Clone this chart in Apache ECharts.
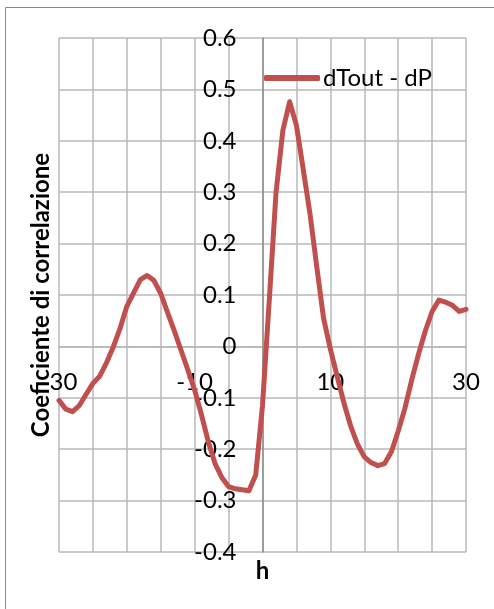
<!DOCTYPE html>
<html>
<head>
<meta charset="utf-8">
<script src="https://cdn.jsdelivr.net/npm/echarts@6/dist/echarts.min.js"></script>
<style>
html,body{margin:0;padding:0;background:#fff;}
#chart{width:494px;height:609px;}
</style>
</head>
<body>
<div id="chart"></div>
<script>
// Data
const lags = [-30,-29,-28,-27,-26,-25,-24,-23,-22,-21,-20,-19,-18,-17,-16,-15,-14,-13,-12,-11,-10,
  -9,-8,-7,-6,-5,-4,-3,-2,-1,0,1,2,3,4,5,6,7,8,9,10,
  11,12,13,14,15,16,17,18,19,20,21,22,23,24,25,26,27,28,29,30];
const corr = [-0.105,-0.122,-0.127,-0.115,-0.093,-0.072,-0.058,-0.032,-0.001,0.035,0.078,
  0.104,0.130,0.138,0.128,0.103,0.066,0.030,-0.008,-0.046,-0.085,
  -0.133,-0.185,-0.228,-0.255,-0.273,-0.277,-0.279,-0.281,-0.250,-0.115,
  0.090,0.300,0.420,0.476,0.430,0.345,0.258,0.155,0.055,-0.005,
  -0.058,-0.110,-0.155,-0.190,-0.215,-0.226,-0.232,-0.228,-0.205,-0.165,
  -0.120,-0.065,-0.015,0.030,0.068,0.090,0.086,0.080,0.068,0.072];
const seriesName = 'dTout - dP';
const xTickLabels = [-30,-10,10,30];
const yTitle = 'Coeficiente di correlazione';
const xTitle = 'h';

const points = lags.map((h,i)=>[h,corr[i]]);
const FONT = 'Lato';
const G = {left:59,right:28,top:38,bottom:57,W:494,H:609};
const plotW = G.W-G.left-G.right, plotH = G.H-G.top-G.bottom;
const X_MIN=-30, X_MAX=30, Y_MIN=-0.4, Y_MAX=0.6;
// offsets so that each axis crosses the other at 0 (Excel-style)
const xAxisOffset = -plotH*(0-Y_MIN)/(Y_MAX-Y_MIN);
const yAxisOffset = -plotW*(0-X_MIN)/(X_MAX-X_MIN);

const chart = echarts.init(document.getElementById('chart'));
chart.setOption({
  animation:false,
  backgroundColor:'#fff',
  textStyle:{fontFamily:FONT},
  graphic:[{type:'rect',shape:{x:5.5,y:7.5,width:700,height:800},
    style:{fill:'none',stroke:'#888',lineWidth:1},silent:true,z:-10}],
  grid:{left:G.left,right:G.right,top:G.top,bottom:G.bottom,containLabel:false,outerBoundsMode:'none'},
  legend:{
    show:true,left:264,top:66,padding:0,
    itemWidth:56,itemHeight:6,icon:'roundRect',itemGap:5,
    textStyle:{fontFamily:FONT,fontSize:24,color:'#000',padding:[0,0,0,-2]},
    data:[seriesName]
  },
  xAxis:{
    type:'value',min:X_MIN,max:X_MAX,interval:5,z:0,
    position:'bottom',offset:xAxisOffset,
    axisLine:{onZero:false,lineStyle:{color:'#b0b0b0',width:1.5}},
    axisTick:{show:false},
    axisLabel:{margin:24,fontFamily:FONT,fontSize:24,color:'#000',
      formatter:v=>xTickLabels.includes(v)?String(v):''},
    splitLine:{show:true,lineStyle:{color:'#b8b8b8',width:1.5}},
    name:xTitle,nameLocation:'middle',nameGap:213,
    nameTextStyle:{fontFamily:FONT,fontSize:24,fontWeight:'bold',color:'#000'}
  },
  yAxis:{
    type:'value',min:Y_MIN,max:Y_MAX,interval:0.1,z:1,
    position:'left',offset:yAxisOffset,
    axisLine:{show:true,onZero:false,lineStyle:{color:'#8c8c8c',width:1.5}},
    axisTick:{show:false},
    axisLabel:{margin:26,fontFamily:FONT,fontSize:24,color:'#000',
      formatter:v=>String(+v.toFixed(1))},
    splitLine:{show:true,lineStyle:{color:'#b8b8b8',width:1.5}},
    name:yTitle,nameLocation:'middle',nameRotate:90,nameGap:212,
    nameTextStyle:{fontFamily:FONT,fontSize:24,fontWeight:'bold',color:'#000',
      backgroundColor:'#fff',lineHeight:19}
  },
  series:[{
    name:seriesName,type:'line',data:points,showSymbol:false,symbol:'none',
    color:'#C0504D',z:3,
    lineStyle:{width:5,color:'#C0504D',cap:'round',join:'round'}
  }]
});
</script>
</body>
</html>
